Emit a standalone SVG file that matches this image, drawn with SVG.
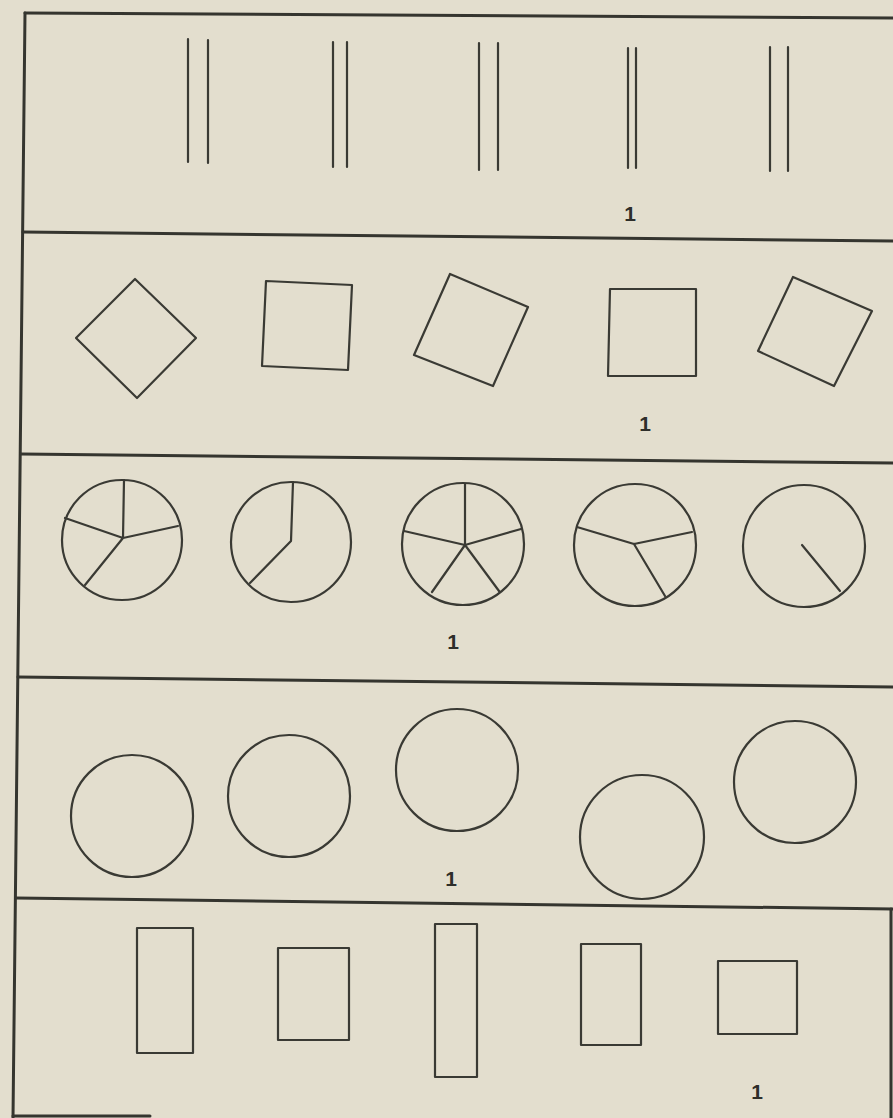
<svg xmlns="http://www.w3.org/2000/svg" width="893" height="1118" viewBox="0 0 893 1118">
<style>
.frame{fill:none;stroke:#35352f;stroke-width:3;stroke-linecap:round}
.s{fill:none;stroke:#3a3a34;stroke-width:2.2;stroke-linejoin:round;stroke-linecap:round}
.t{font-family:"Liberation Sans",Arial,sans-serif;font-weight:bold;font-size:21px;fill:#2e2e2a;text-anchor:middle}
</style>
<rect x="0" y="0" width="893" height="1118" fill="#e3dece"/>
<g id="frame">
<path class="frame" d="M25,13 L893,18"/>
<path class="frame" d="M25,13 L13,1118"/>
<path class="frame" d="M23,232 L893,241"/>
<path class="frame" d="M21,454 L893,463"/>
<path class="frame" d="M18,677 L893,687"/>
<path class="frame" d="M16,898 L893,909"/>
<path class="frame" d="M891,909 L891,1118"/>
<path class="frame" d="M13,1116 L150,1116"/>
</g>
<g id="row1">
<g id="r1a"><path class="s" d="M188,39 V162 M208,40 V163"/></g>
<g id="r1b"><path class="s" d="M333,42 V167 M347,42 V167"/></g>
<g id="r1c"><path class="s" d="M479,43 V170 M498,43 V170"/></g>
<g id="r1d"><path class="s" d="M628,48 V168 M636,48 V168"/></g>
<g id="r1e"><path class="s" d="M770,47 V171 M788,47 V171"/></g>
<text class="t" x="630" y="221">1</text>
</g>
<g id="row2">
<g id="r2a"><polygon class="s" points="76,338 135,279 196,338 137,398"/></g>
<g id="r2b"><polygon class="s" points="266,281 352,285 348,370 262,366"/></g>
<g id="r2c"><polygon class="s" points="450,274 528,307 493,386 414,355"/></g>
<g id="r2d"><polygon class="s" points="610,289 696,289 696,376 608,376"/></g>
<g id="r2e"><polygon class="s" points="793,277 872,311 834,386 758,351"/></g>
<text class="t" x="645" y="431">1</text>
</g>
<g id="row3">
<g id="r3a"><circle class="s" cx="122" cy="540" r="60"/><path class="s" d="M124,480 L123,538 M65,518 L123,538 L178,526 M123,538 L85,585"/></g>
<g id="r3b"><circle class="s" cx="291" cy="542" r="60"/><path class="s" d="M293,482 L291,541 L250,583"/></g>
<g id="r3c"><circle class="s" cx="463" cy="544" r="61"/><path class="s" d="M465,484 L465,545 M404,531 L465,545 L521,529 M465,545 L432,592 M465,545 L499,591"/></g>
<g id="r3d"><circle class="s" cx="635" cy="545" r="61"/><path class="s" d="M577,527 L634,544 L692,532 M634,544 L665,596"/></g>
<g id="r3e"><circle class="s" cx="804" cy="546" r="61"/><path class="s" d="M802,545 L840,591"/></g>
<text class="t" x="453" y="649">1</text>
</g>
<g id="row4">
<g id="r4a"><circle class="s" cx="132" cy="816" r="61"/></g>
<g id="r4b"><circle class="s" cx="289" cy="796" r="61"/></g>
<g id="r4c"><circle class="s" cx="457" cy="770" r="61"/></g>
<g id="r4d"><circle class="s" cx="642" cy="837" r="62"/></g>
<g id="r4e"><circle class="s" cx="795" cy="782" r="61"/></g>
<text class="t" x="451" y="886">1</text>
</g>
<g id="row5">
<g id="r5a"><rect class="s" x="137" y="928" width="56" height="125"/></g>
<g id="r5b"><rect class="s" x="278" y="948" width="71" height="92"/></g>
<g id="r5c"><rect class="s" x="435" y="924" width="42" height="153"/></g>
<g id="r5d"><rect class="s" x="581" y="944" width="60" height="101"/></g>
<g id="r5e"><rect class="s" x="718" y="961" width="79" height="73"/></g>
<text class="t" x="757" y="1099">1</text>
</g>
</svg>
